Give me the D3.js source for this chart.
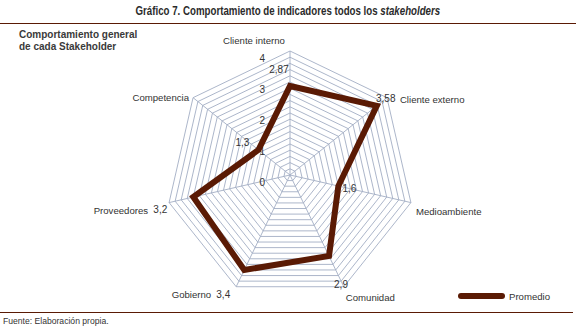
<!DOCTYPE html>
<html>
<head>
<meta charset="utf-8">
<script src="https://cdn.jsdelivr.net/npm/d3@7"></script>
<style>
  body { margin: 0; background: #fff; }
  svg { display: block; }
  text { font-family: "Liberation Sans Narrow", "Liberation Sans", Arial, sans-serif; fill: #333; }
</style>
</head>
<body>
<svg id="chart" width="576" height="328"></svg>
<script>
// stakeholders, clockwise from the top
var categories = ["Cliente interno", "Cliente externo", "Medioambiente", "Comunidad",
                  "Gobierno", "Proveedores", "Competencia"];
var promedio = [2.87, 3.58, 1.6, 2.9, 3.4, 3.2, 1.3];
var valueLabels = ["2,87", "3,58", "1,6", "2,9", "3,4", "3,2", "1,3"];
var ticks = [0, 1, 2, 3, 4];

// label placement (pixel nudges relative to the point / outer vertex)
var valueLabelNudge = [[-11, -17], [9, -8], [11, 2], [12, 28], [-21, 24], [-33, 12], [-16, -8]];
var catLabelPos = [
  { dx: -36, dy: -7, anchor: "middle" },
  { dx: 13, dy: 5, anchor: "start" },
  { dx: 5, dy: 12, anchor: "start" },
  { dx: 2, dy: 14, anchor: "start" },
  { dx: -25, dy: 11, anchor: "end" },
  { dx: -21, dy: 11, anchor: "end" },
  { dx: -4, dy: 3, anchor: "end" }
];

var svg = d3.select("#chart");
var cx = 290, cy = 175, radius = 124;
var lineColor = "#5a1a04";
var gridColor = "#a3aec4";

var rScale = d3.scaleLinear().domain([0, 4]).range([0, radius]);
var angle = d3.scaleLinear().domain([0, categories.length]).range([0, 2 * Math.PI]);

function point(i, v) {
  var a = angle(i), r = rScale(v);
  return [cx + r * Math.sin(a), cy - r * Math.cos(a)];
}

// title, squeezed horizontally to a condensed look
var titleG = svg.append("g");
var title = titleG.append("text")
  .attr("x", 0).attr("y", 0)
  .style("font-size", "12px").style("font-weight", "bold").style("fill", "#2b2b2b")
  .text("Gráfico 7. Comportamiento de indicadores todos los ");
title.append("tspan").style("font-style", "italic").text("stakeholders");
var titleW = title.node().getComputedTextLength();
var sx = 305 / titleW;
titleG.attr("transform", "translate(" + (288 - 305 / 2) + ",15) scale(" + sx + ",1)");

svg.append("line").attr("x1", 0).attr("x2", 576).attr("y1", 23.5).attr("y2", 23.5)
  .attr("stroke", lineColor).attr("stroke-width", 1.2);
svg.append("line").attr("x1", 0).attr("x2", 573).attr("y1", 312.5).attr("y2", 312.5)
  .attr("stroke", lineColor).attr("stroke-width", 1.2);

var sub = svg.append("text").attr("x", 19).attr("y", 38)
  .style("font-size", "10px").style("font-weight", "bold").style("fill", "#3a3a3a");
sub.append("tspan").attr("x", 19).text("Comportamiento general");
sub.append("tspan").attr("x", 19).attr("dy", 12).text("de cada Stakeholder");

svg.append("text").attr("x", 3).attr("y", 324)
  .style("font-size", "8.6px")
  .text("Fuente: Elaboración propia.");

// grid: minor rings every 0.2
var ringValues = d3.range(1, 21).map(function(k) { return k * 0.2; });
var grid = svg.append("g");
grid.selectAll("polygon")
  .data(ringValues)
  .enter()
  .append("polygon")
  .attr("points", function(v) {
    return categories.map(function(c, i) { return point(i, v).join(","); }).join(" ");
  })
  .attr("fill", "none")
  .attr("stroke", gridColor)
  .attr("stroke-width", 0.9);

grid.selectAll("line")
  .data(categories)
  .enter()
  .append("line")
  .attr("x1", cx).attr("y1", cy)
  .attr("x2", function(d, i) { return point(i, 4)[0]; })
  .attr("y2", function(d, i) { return point(i, 4)[1]; })
  .attr("stroke", gridColor)
  .attr("stroke-width", 0.9);

// tick labels along the top spoke
svg.append("g").selectAll("text")
  .data(ticks)
  .enter()
  .append("text")
  .attr("x", cx - 25)
  .attr("y", function(d) { return cy - rScale(d) + 11; })
  .attr("text-anchor", "end")
  .style("font-size", "10px")
  .text(function(d) { return d; });

// category labels
svg.append("g").selectAll("text")
  .data(categories)
  .enter()
  .append("text")
  .attr("x", function(d, i) { return point(i, 4)[0] + catLabelPos[i].dx; })
  .attr("y", function(d, i) { return point(i, 4)[1] + catLabelPos[i].dy; })
  .attr("text-anchor", function(d, i) { return catLabelPos[i].anchor; })
  .style("font-size", "9.6px")
  .text(function(d) { return d; });

// series
var radarLine = d3.line().curve(d3.curveLinearClosed);
svg.append("path")
  .datum(promedio.map(function(v, i) { return point(i, v); }))
  .attr("d", radarLine)
  .attr("fill", "none")
  .attr("stroke", lineColor)
  .attr("stroke-width", 6)
  .attr("stroke-linejoin", "miter");

// value labels
svg.append("g").selectAll("text")
  .data(promedio)
  .enter()
  .append("text")
  .attr("x", function(v, i) { return point(i, v)[0] + valueLabelNudge[i][0]; })
  .attr("y", function(v, i) { return point(i, v)[1] + valueLabelNudge[i][1] + 4; })
  .attr("text-anchor", "middle")
  .style("font-size", "10px")
  .text(function(v, i) { return valueLabels[i]; });

// legend
var legend = svg.append("g");
legend.append("line")
  .attr("x1", 461).attr("x2", 502).attr("y1", 296).attr("y2", 296)
  .attr("stroke", lineColor).attr("stroke-width", 6).attr("stroke-linecap", "round");
legend.append("text").attr("x", 509).attr("y", 300)
  .style("font-size", "9.6px")
  .text("Promedio");
</script>
</body>
</html>
